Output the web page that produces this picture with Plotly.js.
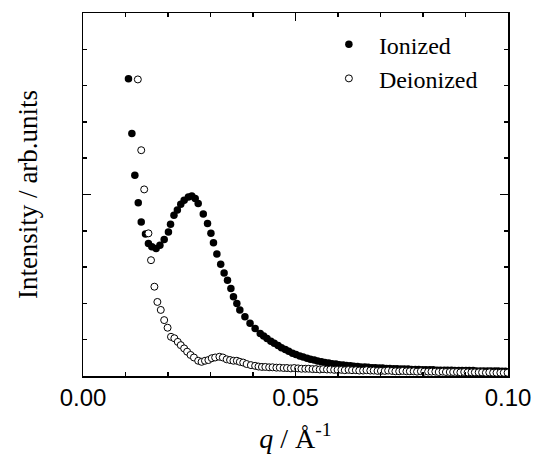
<!DOCTYPE html>
<html>
<head>
<meta charset="utf-8">
<script src="https://cdn.plot.ly/plotly-3.0.1.min.js"></script>
<style>html,body{margin:0;padding:0;background:#fff;}#chart{width:537px;height:459px;}</style>
</head>
<body>
<div id="chart"></div>
<script>
// q values (Å^-1) and intensity (arb. units) for the ionized sample
const qIonized = [0.0107,0.0115,0.0122,0.0130,0.0137,0.0147,0.0154,0.0162,0.0172,0.0181,0.0191,0.0201,0.0206,0.0214,0.0222,0.0230,0.0238,0.0248,0.0256,0.0264,0.0271,0.0283,0.0293,0.0301,0.0307,0.0315,0.0324,0.0332,0.0340,0.0348,0.0354,0.0362,0.0369,0.0381,0.0393,0.0405,0.0417,
0.0425,0.0433,0.0442,0.0450,0.0459,0.0467,0.0476,0.0484,0.0493,0.0501,0.0510,0.0518,0.0527,0.0535,0.0544,0.0552,0.0561,0.0569,0.0578,0.0586,0.0595,0.0603,0.0612,0.0620,0.0629,0.0637,0.0646,0.0654,0.0663,0.0671,0.0680,0.0688,0.0697,0.0705,0.0714,0.0722,0.0731,0.0739,0.0748,0.0756,0.0765,0.0773,0.0782,0.0790,0.0799,0.0807,0.0816,0.0824,0.0833,0.0841,0.0850,0.0858,0.0867,0.0875,0.0884,0.0892,0.0901,0.0909,0.0918,0.0926,0.0935,0.0943,0.0952,0.0960,0.0969,0.0977,0.0986,0.0994];
const iIonized = [8.19,6.68,5.53,4.77,4.24,3.91,3.65,3.56,3.51,3.60,3.76,3.97,4.18,4.43,4.57,4.73,4.84,4.93,4.96,4.89,4.75,4.46,4.20,3.93,3.67,3.36,3.08,2.84,2.64,2.41,2.18,2.00,1.82,1.63,1.45,1.31,1.17,
1.10,1.03,0.96,0.90,0.84,0.78,0.73,0.68,0.63,0.59,0.55,0.52,0.49,0.46,0.44,0.41,0.39,0.37,0.36,0.34,0.33,0.31,0.30,0.29,0.28,0.27,0.26,0.25,0.25,0.24,0.23,0.23,0.22,0.22,0.21,0.21,0.20,0.20,0.19,0.19,0.19,0.18,0.18,0.18,0.17,0.17,0.17,0.17,0.16,0.16,0.16,0.16,0.16,0.15,0.15,0.15,0.15,0.15,0.15,0.14,0.14,0.14,0.14,0.14,0.14,0.14,0.13,0.13];

// q values and intensity for the deionized sample
const qDeionized = [0.0129,0.0137,0.0144,0.0154,0.0160,0.0168,0.0175,0.0183,0.0191,0.0199,0.0207,0.0215,0.0223,0.0230,0.0238,0.0245,0.0253,0.0261,0.0271,0.0279,0.0287,0.0295,0.0303,0.0311,0.0321,0.0329,0.0338,0.0346,0.0354,0.0362,0.0369,0.0377,0.0385,0.0395,0.0405,0.0413,
0.0421,0.0429,0.0438,0.0446,0.0455,0.0463,0.0472,0.0480,0.0489,0.0497,0.0506,0.0514,0.0523,0.0531,0.0540,0.0548,0.0557,0.0565,0.0574,0.0582,0.0591,0.0599,0.0608,0.0616,0.0625,0.0633,0.0642,0.0650,0.0659,0.0667,0.0676,0.0684,0.0693,0.0701,0.0710,0.0718,0.0727,0.0735,0.0744,0.0752,0.0761,0.0769,0.0778,0.0786,0.0795,0.0803,0.0812,0.0820,0.0829,0.0837,0.0846,0.0854,0.0863,0.0871,0.0880,0.0888,0.0897,0.0905,0.0914,0.0922,0.0931,0.0939,0.0948,0.0956,0.0965,0.0973,0.0982,0.0990,0.0999];
const iDeionized = [8.17,6.22,5.14,3.93,3.19,2.46,2.04,1.82,1.54,1.33,1.08,1.04,0.94,0.85,0.76,0.67,0.58,0.51,0.42,0.39,0.42,0.44,0.49,0.51,0.53,0.51,0.46,0.44,0.42,0.42,0.39,0.37,0.33,0.30,0.28,0.26,
0.25,0.25,0.24,0.24,0.23,0.23,0.22,0.22,0.21,0.22,0.21,0.20,0.20,0.20,0.19,0.19,0.18,0.19,0.18,0.18,0.17,0.17,0.17,0.16,0.17,0.16,0.16,0.15,0.15,0.16,0.15,0.15,0.14,0.14,0.14,0.15,0.14,0.13,0.13,0.14,0.13,0.13,0.13,0.12,0.13,0.12,0.12,0.12,0.12,0.11,0.12,0.11,0.11,0.11,0.11,0.10,0.11,0.10,0.10,0.10,0.10,0.10,0.09,0.10,0.09,0.09,0.09,0.09,0.09];

const seriesNames = ['Ionized', 'Deionized'];
const xTickVals = [0, 0.05, 0.10];
const xTickText = ['0.00', '0.05', '0.10'];

const traces = [
  {
    x: qIonized, y: iIonized, name: seriesNames[0], type: 'scatter', mode: 'markers',
    marker: {symbol: 'circle', size: 7.5, color: '#000'}
  },
  {
    x: qDeionized, y: iDeionized, name: seriesNames[1], type: 'scatter', mode: 'markers',
    marker: {symbol: 'circle', size: 7, color: '#fff', line: {width: 1, color: '#000'}}
  }
];

const axisCommon = {
  showgrid: false, zeroline: false, showline: true, linecolor: '#000', linewidth: 1.5,
  mirror: 'ticks', ticks: 'inside', tickcolor: '#000', tickwidth: 1.5, ticklen: 8
};

const layout = {
  width: 537, height: 459,
  paper_bgcolor: '#fff', plot_bgcolor: '#fff',
  margin: {l: 83, r: 29, t: 13, b: 83},
  showlegend: true,
  legend: {
    x: 0.555, y: 0.975, xanchor: 'left', yanchor: 'top',
    font: {family: 'Liberation Serif, Times New Roman, serif', size: 24, color: '#000'},
    bgcolor: 'rgba(0,0,0,0)', itemwidth: 50, tracegroupgap: 0,
    traceorder: 'normal'
  },
  xaxis: Object.assign({}, axisCommon, {
    range: [0, 0.10],
    tickvals: xTickVals, ticktext: xTickText,
    tickfont: {family: 'Liberation Sans, Arial, sans-serif', size: 24, color: '#000'},
    minor: {dtick: 0.01, ticks: 'inside', ticklen: 4, tickwidth: 1.5, tickcolor: '#000'},
    title: {text: '<i>q</i> / Å<sup>-1</sup>', font: {family: 'Liberation Serif, Times New Roman, serif', size: 28, color: '#000'}, standoff: 18}
  }),
  yaxis: Object.assign({}, axisCommon, {
    range: [0, 10], tickvals: [0, 5, 10], showticklabels: false,
    minor: {dtick: 1, ticks: 'inside', ticklen: 4, tickwidth: 1.5, tickcolor: '#000'},
    title: {text: 'Intensity / arb.units', font: {family: 'Liberation Serif, Times New Roman, serif', size: 27, color: '#000'}, standoff: 36}
  })
};

Plotly.newPlot('chart', traces, layout, {displayModeBar: false, staticPlot: true});
</script>
</body>
</html>
